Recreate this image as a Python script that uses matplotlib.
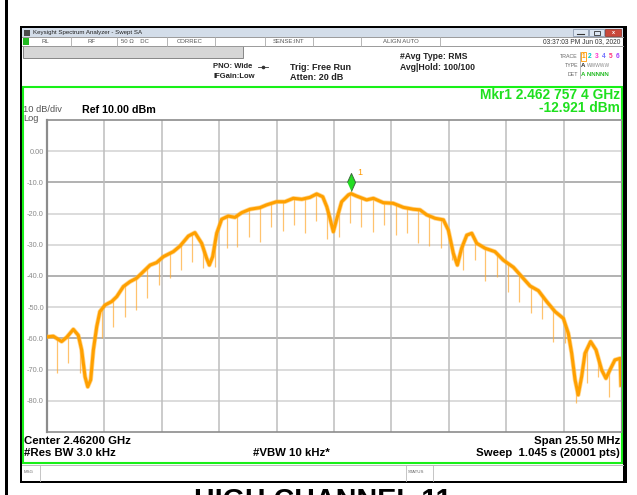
import numpy as np
import matplotlib
matplotlib.use('Agg')
import matplotlib.pyplot as plt
from matplotlib.patches import Rectangle
from matplotlib.lines import Line2D
from matplotlib.transforms import offset_copy

plt.rcParams['font.family'] = ['Liberation Sans', 'DejaVu Sans']

# trace: frequency offset from center (MHz) and level (dBm)
freq = [-12.75, -12.47, -12.10, -11.87, -11.58, -11.36, -11.21, -11.06, -10.94, -10.81,
        -10.69, -10.54, -10.40, -10.17, -9.88, -9.65, -9.36, -9.06, -8.77, -8.47,
        -8.17, -7.88, -7.58, -7.14, -6.84, -6.47, -6.18, -5.88, -5.66, -5.54,
        -5.39, -5.21, -4.99, -4.70, -4.40, -4.10, -3.73, -3.29, -2.99, -2.55,
        -2.18, -1.81, -1.43, -1.07, -0.77, -0.50, -0.32, -0.18, -0.03, 0.15,
        0.34, 0.64, 0.76, 1.01, 1.45, 1.75, 2.19, 2.63, 3.08, 3.52,
        3.82, 4.12, 4.49, 4.86, 5.08, 5.30, 5.48, 5.67, 5.90, 6.12,
        6.34, 6.71, 7.15, 7.52, 7.97, 8.34, 8.71, 9.08, 9.45, 9.82,
        10.19, 10.41, 10.56, 10.71, 10.85, 11.00, 11.15, 11.40, 11.64, 11.89,
        12.08, 12.26, 12.48, 12.71, 12.75]
level = [-59.5, -59.3, -61.0, -59.6, -57.1, -59.0, -63.7, -72.3, -75.5, -73.3,
         -63.7, -56.2, -51.4, -49.3, -48.2, -46.6, -43.4, -41.8, -40.7, -38.6,
         -36.5, -35.7, -33.8, -32.2, -30.4, -27.2, -26.1, -29.5, -34.3, -36.5,
         -33.8, -26.3, -21.8, -20.8, -21.2, -19.7, -18.6, -18.1, -17.2, -16.2,
         -16.2, -15.1, -15.4, -14.8, -13.7, -14.6, -17.8, -21.5, -25.8, -21.0,
         -16.2, -14.0, -13.6, -14.4, -15.6, -15.1, -16.5, -16.7, -18.0, -18.6,
         -18.8, -20.4, -21.5, -22.0, -25.3, -32.7, -36.5, -31.1, -26.9, -26.3,
         -29.5, -31.1, -32.2, -34.9, -37.2, -40.2, -43.2, -44.7, -48.2, -51.4,
         -53.6, -58.4, -64.8, -73.3, -78.1, -72.3, -64.8, -61.0, -63.7, -70.1,
         -72.8, -70.1, -66.9, -66.4, -75.0]

# downward glitches in the trace: position (MHz) and lowest level (dBm)
spike_freq = [-12.29, -11.80, -11.28, -10.32, -9.80, -9.28, -8.80, -8.29, -7.79, -7.29,
              -6.81, -6.31, -5.81, -5.29, -4.77, -4.30, -3.78, -3.29, -2.81, -2.28,
              -1.78, -1.29, -0.79, -0.30, 0.22, 0.71, 1.21, 1.72, 2.22, 2.74,
              3.23, 3.73, 4.23, 4.74, 5.23, 5.75, 6.25, 6.72, 7.23, 7.74,
              8.23, 8.74, 9.24, 9.74, 10.25, 10.75, 11.25, 11.74, 12.23]
spike_low = [-71.2, -68.0, -71.2, -60.0, -56.5, -53.0, -50.9, -47.2, -42.9, -40.7,
             -38.1, -35.4, -37.5, -37.0, -30.9, -30.6, -27.4, -29.0, -24.4, -25.6,
             -23.8, -26.1, -22.3, -28.3, -27.6, -22.9, -24.2, -25.8, -23.7, -26.9,
             -26.3, -29.3, -30.4, -31.1, -34.9, -38.1, -35.0, -41.5, -40.2, -45.0,
             -48.2, -51.9, -53.9, -61.0, -61.6, -80.8, -74.4, -72.3, -78.7]

marker_freq = 0.7574
marker_level = -12.921
yticks = [10, 0, -10, -20, -30, -40, -50, -60, -70, -80, -90]
ylabels = ['', '0.00', '-10.0', '-20.0', '-30.0', '-40.0', '-50.0', '-60.0', '-70.0', '-80.0', '']

W, H = 637, 495
fig = plt.figure(figsize=(W / 100, H / 100), dpi=100)


def fx(x):
    return x / W


def fy(y):
    return 1 - y / H


def rect(x0, y0, x1, y1, fc, ec='none', lw=0, z=-5):
    fig.add_artist(Rectangle((fx(x0), fy(y1)), (x1 - x0) / W, (y1 - y0) / H,
                             transform=fig.transFigure, facecolor=fc,
                             edgecolor=ec, linewidth=lw, zorder=z))


def line(xs, ys, c, lw=0.7, z=-4):
    fig.add_artist(Line2D([fx(v) for v in xs], [fy(v) for v in ys],
                          transform=fig.transFigure, color=c, lw=lw, zorder=z))


def txt(x, y, s, size, **kw):
    kw.setdefault('va', 'center')
    fig.text(fx(x), fy(y), s, fontsize=size, **kw)


# page border and window frame
rect(5, 0, 7.5, 495, 'black')
rect(19.5, 26, 627, 483, 'black')
rect(22, 28, 623, 481, 'white')

# title bar
rect(22, 28, 623, 37, '#d3dde9')
rect(23.5, 29.5, 30, 35.5, '#4a4a4a')
txt(33, 32.5, 'Keysight Spectrum Analyzer - Swept SA', 4.4, color='#222222')
rect(573, 29, 588, 36, '#dce6f2', ec='#7f8fa6', lw=0.5)
rect(589, 29, 604, 36, '#dce6f2', ec='#7f8fa6', lw=0.5)
rect(605, 29, 621, 36, '#c9483a', ec='#8a2a20', lw=0.5)
line([577, 584], [33.5, 33.5], '#333333', 0.8, -3)
rect(594, 31, 600, 34.5, 'none', ec='#333333', lw=0.6, z=-3)
txt(613, 32.5, 'x', 4, color='white', ha='center', weight='bold')

# status row
line([22, 623], [37, 37], '#9a9a9a')
line([22, 623], [45.5, 45.5], '#9a9a9a')
rect(23, 38, 28.5, 44.5, '#22bb22')
for sx in [70.7, 117.3, 166.7, 215, 265, 313, 360.7, 439.7]:
    line([sx, sx], [37, 45.5], '#aaaaaa', 0.6)
status_items = [(41, 'RL'), (88, 'RF'), (121, '50 \u03a9    DC'), (177, 'CORREC'),
                (273, 'SENSE:INT'), (383, 'ALIGN AUTO')]
for sx, s in status_items:
    txt(sx, 41.5, s, 4.3, color='#555555')
txt(620, 41.5, '03:37:03 PM Jun 03, 2020', 4.8, color='#333333', ha='right')

# gray bar
rect(23, 46.5, 243, 57.5, '#d6d6d6', ec='#777777', lw=0.6)

# settings text
txt(213, 67, 'PNO: Wide', 5.5, color='#222222', weight='bold')
txt(213, 77, 'IFGain:Low', 5.5, color='#222222', weight='bold')
line([258, 268], [67, 67], '#333333', 0.6)
fig.add_artist(Line2D([fx(263)], [fy(67)], marker='o', ms=1.6, color='#333333',
                      transform=fig.transFigure, zorder=-3))
txt(290, 67, 'Trig: Free Run', 6.5, color='#222222', weight='bold')
txt(290, 77.5, 'Atten: 20 dB', 6.5, color='#222222', weight='bold')
txt(400, 56.5, '#Avg Type: RMS', 6.2, color='#222222', weight='bold')
txt(400, 67, 'Avg|Hold: 100/100', 6.2, color='#222222', weight='bold')

txt(578, 56, 'TRACE', 3.8, color='#666666', ha='right')
txt(578, 65.5, 'TYPE', 3.8, color='#666666', ha='right')
txt(578, 74.5, 'DET', 3.8, color='#666666', ha='right')
line([579.5, 579.5], [52, 78], '#999999', 0.5)
trace_cols = ['#ff9900', '#00c8c8', '#ff33cc', '#6f6fff', '#ff3377', '#a040ff']
for i, c in enumerate(trace_cols):
    txt(583 + i * 6.9, 56, str(i + 1), 4.8, color=c, ha='center', weight='bold')
rect(580.5, 51.5, 586, 60.5, 'none', ec='#ff9900', lw=0.6, z=-3)
txt(581, 65.5, 'A', 4.4, color='#333333', weight='bold')
txt(587, 65.5, 'WWWWW', 3.5, color='#888888')
txt(581, 74.5, 'A NNNNN', 4.4, color='#22bb22', weight='bold')

# green display border
rect(22.5, 87, 622, 463, 'none', ec='#18f018', lw=1.5, z=-2)

txt(620, 95, 'Mkr1 2.462 757 4 GHz', 9.9, color='#1ee01e', ha='right', weight='bold')
txt(620, 108, '-12.921 dBm', 9.9, color='#1ee01e', ha='right', weight='bold')
txt(23, 110, '10 dB/div', 6.7, color='#555555')
txt(23, 118.5, 'Log', 6.7, color='#555555')
txt(82, 110, 'Ref 10.00 dBm', 7.7, color='black', weight='bold')

# bottom annotations
txt(24, 441, 'Center 2.46200 GHz', 8.2, weight='bold')
txt(24, 453, '#Res BW 3.0 kHz', 8.2, weight='bold')
txt(253, 453, '#VBW 10 kHz*', 8.2, weight='bold')
txt(620, 441, 'Span 25.50 MHz', 8.2, weight='bold', ha='right')
txt(620, 453, 'Sweep  1.045 s (20001 pts)', 8.2, weight='bold', ha='right')

# message bar
line([22, 623], [464.5, 464.5], '#bbbbbb')
for sx in [40, 405.5, 433]:
    line([sx, sx], [465, 481], '#bbbbbb', 0.6)
txt(23.5, 472, 'MSG', 3.2, color='#666666')
txt(408, 472, 'STATUS', 3.2, color='#666666')

# caption below the screenshot (cut by the page edge, as in the source)
txt(323, 509, 'HIGH CHANNEL 11', 20.7, weight='bold', ha='center', va='baseline')

# spectrum display
ax = fig.add_axes([fx(47), fy(432), (621 - 47) / W, (432 - 120) / H])
ax.set_zorder(5)
ax.set_facecolor('white')
ax.set_xlim(-12.75, 12.75)
ax.set_ylim(-90, 10)
ax.set_xticks(np.linspace(-12.75, 12.75, 11))
ax.set_xticklabels([])
ax.set_yticks(yticks)
ax.set_yticklabels(ylabels)
ax.tick_params(length=0, pad=2.2, labelsize=5.3, labelcolor='#8a8a8a')
for v in yticks[1:-1]:
    ax.axhline(v, color='#9c9c9c' if v in (-10, -40, -60) else '#d2d2d2', lw=1.1, zorder=0)
for v in np.linspace(-12.75, 12.75, 11)[1:-1]:
    ax.axvline(v, color='#bdbdbd', lw=1.1, zorder=0)
for side in ['left', 'right', 'top', 'bottom']:
    ax.spines[side].set_color('#8c8c8c')
ax.spines['left'].set_linewidth(1.6)
ax.spines['top'].set_linewidth(1.2)
ax.spines['bottom'].set_linewidth(1.2)

spike_top = np.interp(spike_freq, freq, level)
ax.vlines(spike_freq, spike_low, spike_top, color='#ffaa30', lw=0.9, alpha=0.7, zorder=2)
ax.plot(freq, level, color='#ffbb44', lw=3.3, alpha=0.6, zorder=3, solid_joinstyle='round')
ax.plot(freq, level, color='#ffa000', lw=2.2, zorder=4, solid_joinstyle='round')

diamond = [(0, -1), (0.45, 0), (0, 1), (-0.45, 0)]
mk_tr = offset_copy(ax.transData, fig=fig, x=0, y=6.5, units='points')
ax.plot([marker_freq], [marker_level], marker=diamond, ms=13, color='#22dd22',
        mec='#3d6b3d', mew=0.7, transform=mk_tr, zorder=6, clip_on=False)
lbl_tr = offset_copy(ax.transData, fig=fig, x=4.5, y=12, units='points')
ax.text(marker_freq, marker_level, '1', color='#ff9900', fontsize=6.5,
        transform=lbl_tr, zorder=6)

fig.savefig('out.png', dpi=100)
